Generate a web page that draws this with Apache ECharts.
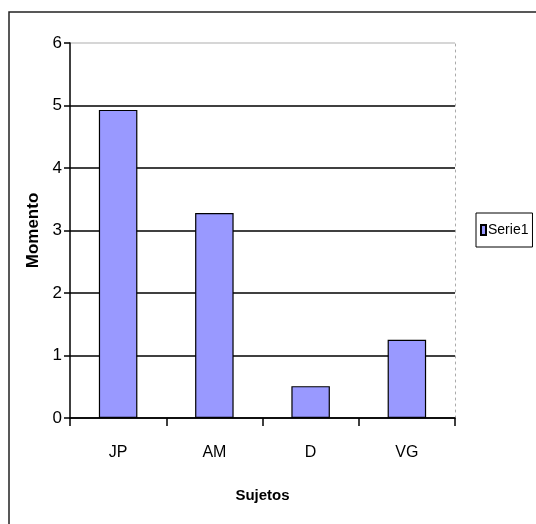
<!DOCTYPE html>
<html><head><meta charset="utf-8">
<script src="https://cdn.jsdelivr.net/npm/echarts@6/dist/echarts.min.js"></script>
<style>html,body{margin:0;padding:0;background:#fff}#c{width:536px;height:524px}</style>
</head><body><div id="c"></div>
<script>
const categories = ['JP', 'AM', 'D', 'VG'];
const serie1 = [4.93, 3.28, 0.51, 1.25];
const seriesName = 'Serie1';
const yTicks = [0, 1, 2, 3, 4, 5, 6];

const F = "'Liberation Sans', Arial, sans-serif";
const chart = echarts.init(document.getElementById('c'), null, {renderer: 'canvas'});
chart.setOption({
  backgroundColor: '#fff',
  animation: false,
  textStyle: {fontFamily: F},
  graphic: [{
    type: 'rect', shape: {x: 9, y: 12, width: 600, height: 600},
    style: {fill: 'none', stroke: '#222', lineWidth: 1.5}, silent: true, z: -1
  }],
  grid: {left: 70, right: 81, top: 43, bottom: 106, containLabel: false},
  legend: {
    data: [seriesName], orient: 'vertical', left: 476, top: 213,
    icon: 'rect', itemWidth: 5, itemHeight: 10, itemGap: 4,
    borderColor: '#000', borderWidth: 1, padding: [10, 4, 10, 4],
    textStyle: {fontFamily: F, fontSize: 14, color: '#000', padding: [0, 0, 0, -3]}
  },
  xAxis: {
    type: 'category', data: categories,
    name: 'Sujetos', nameLocation: 'middle', nameGap: 70,
    nameTextStyle: {fontFamily: F, fontSize: 15, fontWeight: 'bold', color: '#000'},
    axisLine: {lineStyle: {color: '#000', width: 1.5}},
    axisTick: {show: true, length: 8, lineStyle: {color: '#000', width: 1.5}},
    axisLabel: {fontFamily: F, fontSize: 16, color: '#000', margin: 27},
    splitLine: {show: false}
  },
  yAxis: [{
    type: 'value', min: 0, max: 6, interval: 1,
    name: 'Momento', nameLocation: 'middle', nameGap: 27,
    nameTextStyle: {fontFamily: F, fontSize: 17, fontWeight: 'bold', color: '#000'},
    axisLine: {show: true, lineStyle: {color: '#000', width: 1.5}},
    axisTick: {show: true, length: 6, lineStyle: {color: '#000', width: 1.5}},
    axisLabel: {fontFamily: F, fontSize: 17, color: '#000', margin: 8,
      formatter: v => yTicks.includes(v) ? String(v) : ''},
    splitLine: {show: true, lineStyle: {color: ['#000', '#000', '#000', '#000', '#000', '#000', '#c8c8c8'], width: 1.5}}
  }, {
    type: 'value', min: 0, max: 6, interval: 1, position: 'right',
    axisLine: {show: true, lineStyle: {color: '#aaa', width: 1, type: [2, 4]}},
    axisTick: {show: false}, axisLabel: {show: false}, splitLine: {show: false}
  }],
  series: [{
    name: seriesName, type: 'bar', data: serie1, barWidth: '40%',
    itemStyle: {color: '#9999FF', borderColor: '#000', borderWidth: 1.2}
  }]
});
</script></body></html>
